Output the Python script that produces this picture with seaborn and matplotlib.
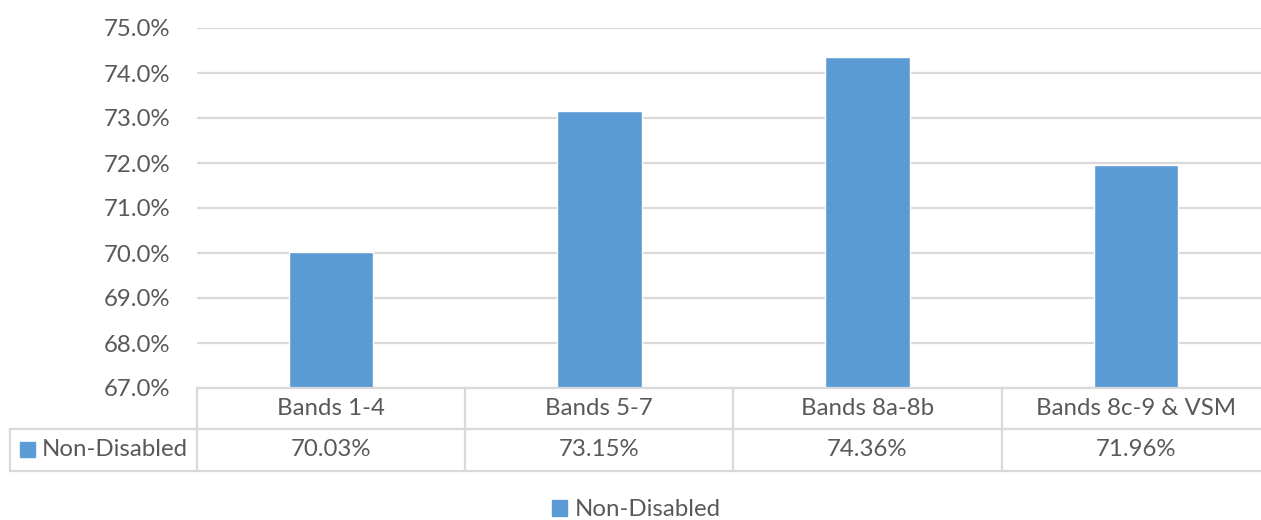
import matplotlib
matplotlib.use("Agg")
import matplotlib.pyplot as plt
import seaborn as sns
import pandas as pd
from matplotlib.patches import Rectangle
from matplotlib.lines import Line2D

categories = ["Bands 1-4", "Bands 5-7", "Bands 8a-8b", "Bands 8c-9 & VSM"]
values = [70.03, 73.15, 74.36, 71.96]
series_name = "Non-Disabled"
y_ticks = [67, 68, 69, 70, 71, 72, 73, 74, 75]

sns.set_theme(style="white")
plt.rcParams["font.family"] = ["Lato", "DejaVu Sans"]

W, H = 1261, 520
BAR = "#5B9BD5"
TXT = "#595959"
GRID = "#D9D9D9"
FS = 17.3

df = pd.DataFrame({"Band": categories, "Value": values, "Series": series_name})

fig = plt.figure(figsize=(W / 100, H / 100), dpi=100)
ax_left, ax_right = 197, 1270
ax_top, ax_bot = 28, 388
ax = fig.add_axes([ax_left / W, 1 - ax_bot / H, (ax_right - ax_left) / W, (ax_bot - ax_top) / H])

sns.barplot(data=df, x="Band", y="Value", hue="Series", palette=[BAR], width=0.315,
            ax=ax, legend=False, saturation=1)
ax.set_ylim(67, 75)
ax.set_xlim(-0.5, 3.5)
ax.set_yticks(y_ticks)
ax.set_yticklabels([f"{t:.1f}%" for t in y_ticks], color=TXT, fontsize=FS)
ax.set_xticks([])
ax.set_xlabel("")
ax.set_ylabel("")
ax.yaxis.grid(True, color=GRID, linewidth=1.6)
ax.set_axisbelow(True)
ax.tick_params(axis="y", length=0, pad=19.5)
for s in ax.spines.values():
    s.set_visible(False)

# data table
def fx(px):
    return px / W

def fy(py):
    return 1 - py / H

col_edges = [197, 465, 733, 1002, 1270]
r0, r1, r2 = 388, 429, 471
lw = 1.6
lines = []
lines.append(Line2D([fx(197), 1], [fy(r0), fy(r0)]))
lines.append(Line2D([fx(10), 1], [fy(r1), fy(r1)]))
lines.append(Line2D([fx(10), 1], [fy(r2), fy(r2)]))
lines.append(Line2D([fx(10), fx(10)], [fy(r1), fy(r2)]))
for xe in col_edges[:-1]:
    lines.append(Line2D([fx(xe), fx(xe)], [fy(r0), fy(r2)]))
for ln in lines:
    ln.set_color(GRID)
    ln.set_linewidth(lw)
    fig.add_artist(ln)

for i, (c, v) in enumerate(zip(categories, values)):
    cx = fx((col_edges[i] + col_edges[i + 1]) / 2)
    fig.text(cx, fy((r0 + r1) / 2), c, ha="center", va="center", color=TXT, fontsize=FS)
    fig.text(cx, fy((r1 + r2) / 2), f"{v:.2f}%", ha="center", va="center", color=TXT, fontsize=FS)

fig.add_artist(Rectangle((fx(20), fy(457)), 15 / W, 15 / H, color=BAR, transform=fig.transFigure))
fig.text(fx(42), fy((r1 + r2) / 2), series_name, ha="left", va="center", color=TXT, fontsize=FS)

# bottom legend
handle = Rectangle((0, 0), 1, 1, color=BAR)
fig.legend([handle], [series_name], loc="center", bbox_to_anchor=(fx(636), fy(510)),
           frameon=False, fontsize=FS, labelcolor=TXT, handlelength=0.65, handleheight=0.65,
           handletextpad=0.3)

fig.savefig("out.png", dpi=100)
